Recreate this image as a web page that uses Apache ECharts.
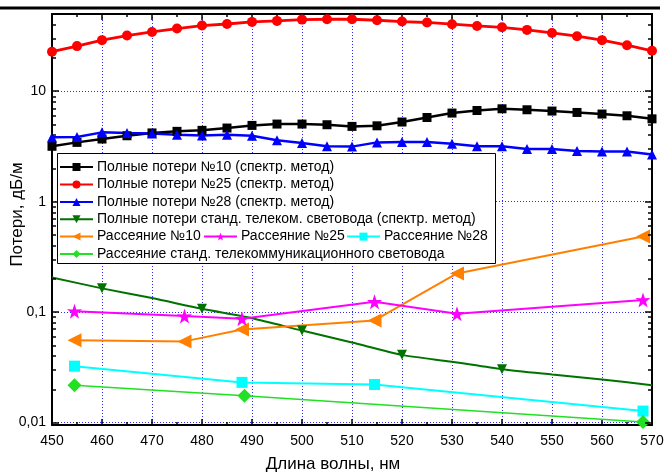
<!DOCTYPE html>
<html>
<head>
<meta charset="utf-8">
<script src="https://cdn.jsdelivr.net/npm/echarts@6/dist/echarts.min.js"></script>
<style>
  html, body { margin: 0; padding: 0; background: #fff; }
  #chart { width: 665px; height: 475px; }
</style>
</head>
<body>
<div id="chart"></div>
<script>
// Wavelength grid of the spectral (cut-back) measurements, nm
const wlSpectral = [450, 455, 460, 465, 470, 475, 480, 485, 490, 495, 500, 505, 510,
                    515, 520, 525, 530, 535, 540, 545, 550, 555, 560, 565, 570];
// Total losses, dB/m
const loss10 = [3.17, 3.44, 3.69, 3.95, 4.19, 4.33, 4.42, 4.64, 4.90, 5.04, 5.04, 4.97, 4.80,
                4.86, 5.26, 5.78, 6.34, 6.69, 6.93, 6.79, 6.61, 6.42, 6.21, 5.99, 5.62];
const loss25 = [22.8, 25.6, 29.0, 31.9, 34.4, 36.9, 39.3, 40.6, 42.4, 43.3, 44.5, 44.8, 44.8,
                43.9, 42.7, 41.9, 40.4, 39.0, 37.9, 35.9, 33.7, 31.5, 29.0, 26.1, 23.2];
const loss28 = [3.82, 3.85, 4.24, 4.19, 4.15, 4.04, 3.98, 4.04, 3.95, 3.59, 3.40, 3.17, 3.15,
                3.44, 3.47, 3.47, 3.34, 3.17, 3.17, 3.00, 3.00, 2.88, 2.84, 2.84, 2.67];

// Standard telecom fibre, total losses (markers only at every 20 nm)
const wlTelecom = [450, 460, 470, 480, 490, 500, 510, 520, 530, 540, 550, 560, 570];
const lossTelecom = [0.206, 0.164, 0.134, 0.107, 0.088, 0.068, 0.053, 0.041, 0.0355, 0.0304, 0.0272, 0.0245, 0.0218];
const telecomMarked = [460, 480, 500, 520, 540];

// Scattering losses measured at laser lines, dB/m
const wlScat10 = [454.5, 476.5, 488.0, 514.5, 531.0, 568.2];
const scat10   = [0.0555, 0.0543, 0.0697, 0.084, 0.224, 0.484];
const wlScat25 = [454.5, 476.5, 488.0, 514.5, 531.0, 568.2];
const scat25   = [0.102, 0.092, 0.0871, 0.124, 0.0966, 0.129];
const wlScat28 = [454.5, 488.0, 514.5, 568.2];
const scat28   = [0.0324, 0.0231, 0.0221, 0.0127];
const wlScatStd = [454.5, 488.5, 568.2];
const scatStd   = [0.0218, 0.0175, 0.0101];

// Axis ticks
const xTicks = [450, 460, 470, 480, 490, 500, 510, 520, 530, 540, 550, 560, 570];
const yMajor = [0.01, 0.1, 1, 10];
const yMinor = [0.02, 0.03, 0.04, 0.05, 0.06, 0.07, 0.08, 0.09,
                0.2, 0.3, 0.4, 0.5, 0.6, 0.7, 0.8, 0.9,
                2, 3, 4, 5, 6, 7, 8, 9, 20, 30, 40];

const names = {
  l10: 'Полные потери №10 (спектр. метод)',
  l25: 'Полные потери №25 (спектр. метод)',
  l28: 'Полные потери №28 (спектр. метод)',
  lt: 'Полные потери станд. телеком. световода (спектр. метод)',
  s10: 'Рассеяние №10',
  s25: 'Рассеяние №25',
  s28: 'Рассеяние №28',
  sstd: 'Рассеяние станд. телекоммуникационного световода'
};

const FONT = '"Liberation Sans", Arial, sans-serif';
const STAR = 'path://M50,0 L61.8,35.1 L97.6,34.5 L68.8,56.7 L79.4,90.5 L50,70 L20.6,90.5 L31.2,56.7 L2.4,34.5 L38.2,35.1 Z';
const X_MIN = 450, X_MAX = 570, NM_PER_PX = 120 / 600;

function pairs(xs, ys) { return xs.map((x, i) => [x, ys[i]]); }

function lineSeries(name, data, color, symbol, size, width, extra) {
  return Object.assign({
    name: name,
    type: 'line',
    data: data,
    xAxisIndex: 0,
    yAxisIndex: 0,
    symbol: symbol,
    symbolSize: size,
    showAllSymbol: true,
    lineStyle: { color: color, width: width },
    itemStyle: { color: color },
    z: 3
  }, extra || {});
}

const telecomData = wlTelecom.map((x, i) => {
  const item = { value: [x, lossTelecom[i]] };
  if (telecomMarked.indexOf(x) < 0) item.symbol = 'none';
  return item;
});

// Inward log-axis ticks on the left and right frame (major 7 px, minor 4 px)
function tickPairs(values, lenPx) {
  const d = lenPx * NM_PER_PX;
  const out = [];
  values.forEach(v => {
    out.push([{ coord: [X_MIN, v] }, { coord: [X_MIN + d, v] }]);
    out.push([{ coord: [X_MAX, v] }, { coord: [X_MAX - d, v] }]);
  });
  return out;
}
const frameTicks = {
  silent: true,
  symbol: ['none', 'none'],
  label: { show: false },
  emphasis: { disabled: true },
  animation: false,
  lineStyle: { color: '#000', width: 1.5, type: 'solid' },
  data: tickPairs(yMajor, 7).concat(tickPairs(yMinor, 4))
};

const series = [
  lineSeries(names.l10, pairs(wlSpectral, loss10), '#000000', 'rect', 9, 2.5, { markLine: frameTicks }),
  lineSeries(names.l25, pairs(wlSpectral, loss25), '#ff0000', 'circle', 10, 2.8),
  lineSeries(names.l28, pairs(wlSpectral, loss28), '#0000ff', 'triangle', 10, 2.5),
  lineSeries(names.lt, telecomData, '#007200', 'triangle', 10, 2, { symbolRotate: 180, smooth: 0.25 }),
  lineSeries(names.s10, pairs(wlScat10, scat10), '#ff8000', 'triangle', 14, 2, { symbolRotate: 90 }),
  lineSeries(names.s25, pairs(wlScat25, scat25), '#ff00ff', STAR, 15, 2),
  lineSeries(names.s28, pairs(wlScat28, scat28), '#00ffff', 'rect', 11, 2),
  lineSeries(names.sstd, pairs(wlScatStd, scatStd), '#22e022', 'diamond', 14, 1.5)
];

// One legend per entry so that each row sits at a fixed place
const legendRows = [
  [names.l10, 59, 167],
  [names.l25, 59, 184.5],
  [names.l28, 59, 202],
  [names.lt, 59, 219.3],
  [names.s10, 59, 236.6],
  [names.s25, 203, 236.6],
  [names.s28, 346, 236.6],
  [names.sstd, 59, 254]
];
const legends = legendRows.map(([n, left, cy]) => ({
  data: [n],
  left: left,
  top: cy - 7,
  padding: 0,
  itemWidth: 33,
  itemHeight: 10,
  selectedMode: false,
  z: 8,
  textStyle: { fontFamily: FONT, fontSize: 14, color: '#000', lineHeight: 14, padding: [0, 0, 0, -1] }
}));

const fmtY = v => String(+(+v).toPrecision(3)).replace('.', ',');

const axisLineStyle = { show: true, lineStyle: { color: '#000', width: 2 } };
const gridLine = { show: true, lineStyle: { color: '#2b2bff', type: [1, 2], width: 1 } };

const option = {
  animation: false,
  backgroundColor: '#fff',
  grid: { left: 52, right: 13, top: 14, bottom: 50, containLabel: false, outerBoundsMode: 'none' },
  legend: legends,
  graphic: [
    { type: 'line', shape: { x1: 0, y1: 8, x2: 660, y2: 8 }, style: { stroke: '#000', lineWidth: 3 }, z: 10 },
    { type: 'rect', shape: { x: 57.5, y: 153.5, width: 438, height: 110 },
      style: { fill: '#fff', stroke: '#000', lineWidth: 1 }, z: 7 }
  ],
  xAxis: [
    {
      type: 'value', position: 'bottom', min: X_MIN, max: X_MAX, interval: 10,
      name: 'Длина волны, нм', nameLocation: 'middle', nameGap: 31, nameMoveOverlap: false,
      nameTextStyle: { fontFamily: FONT, fontSize: 17, color: '#000', padding: [0, 38, 0, 0] },
      axisLine: axisLineStyle,
      axisTick: { show: true, inside: true, length: 6, lineStyle: { color: '#000', width: 1.5 } },
      minorTick: { show: true, splitNumber: 2, length: 3, lineStyle: { color: '#000', width: 1.5 } },
      axisLabel: { fontFamily: FONT, fontSize: 14, color: '#000', margin: 9,
                   customValues: xTicks },
      splitLine: gridLine
    },
    {
      type: 'value', position: 'top', min: X_MIN, max: X_MAX, interval: 10,
      axisLine: axisLineStyle,
      axisTick: { show: true, inside: true, length: 6, lineStyle: { color: '#000', width: 1.5 } },
      minorTick: { show: true, splitNumber: 2, length: 3, lineStyle: { color: '#000', width: 1.5 } },
      axisLabel: { show: false },
      splitLine: { show: false }
    }
  ],
  yAxis: [
    {
      type: 'log', logBase: 10, min: 0.0095, max: 50,
      position: 'left',
      name: 'Потери, дБ/м', nameLocation: 'middle', nameGap: 26, nameRotate: 90, nameMoveOverlap: false,
      nameTextStyle: { fontFamily: FONT, fontSize: 17, color: '#000', padding: [0, 0, 0, 10] },
      axisLine: axisLineStyle,
      axisTick: { show: false },
      axisLabel: { fontFamily: FONT, fontSize: 14, color: '#000', margin: 6,
                   customValues: yMajor, formatter: fmtY },
      splitLine: gridLine
    },
    {
      type: 'log', logBase: 10, min: 0.0095, max: 50,
      position: 'right',
      axisLine: axisLineStyle,
      axisTick: { show: false },
      axisLabel: { show: false },
      splitLine: { show: false }
    }
  ],
  series: series
};

const chart = echarts.init(document.getElementById('chart'), null, { renderer: 'canvas' });
chart.setOption(option);
</script>
</body>
</html>
